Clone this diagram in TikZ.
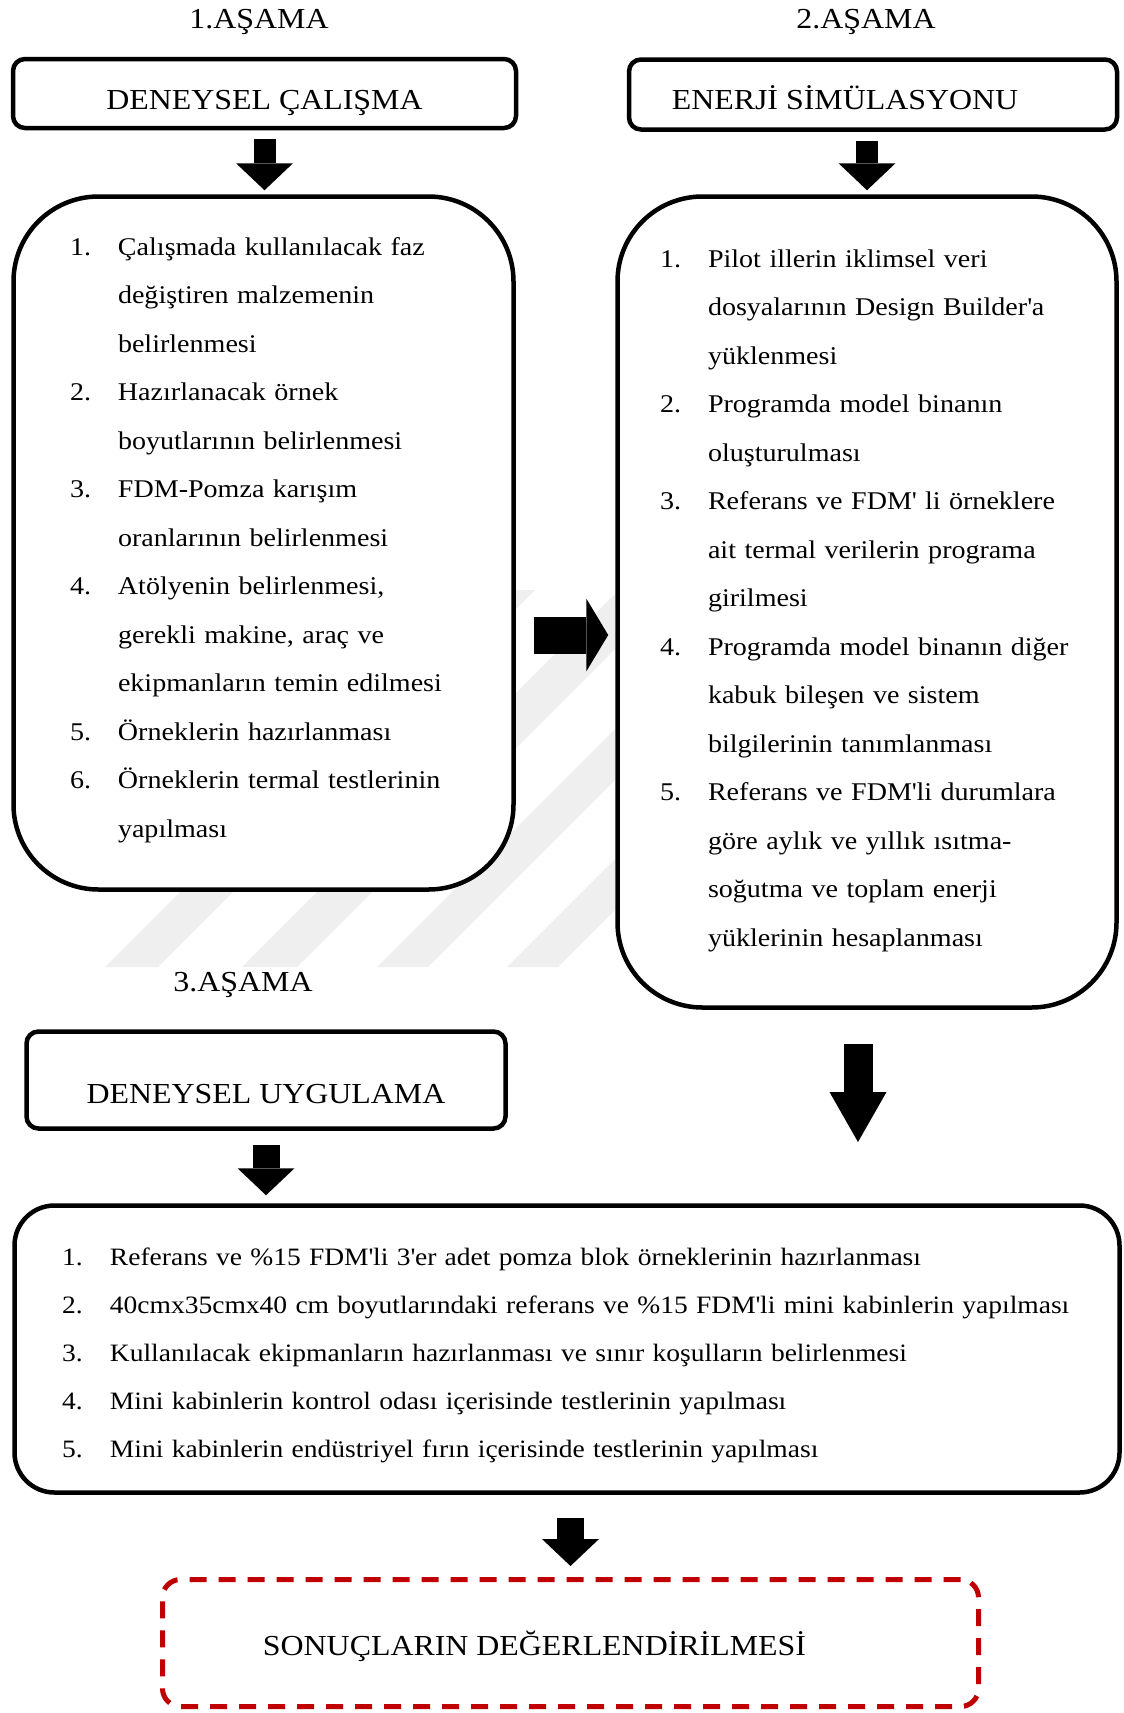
\documentclass[tikz,border=0pt]{standalone}
\usepackage{fontspec}
\setmainfont{Liberation Serif}[FakeStretch=1.1]
\usepackage{tikz}
\usetikzlibrary{arrows.meta}
\definecolor{sonuckirmizi}{RGB}{192,0,0}
\definecolor{filigran}{RGB}{239,239,239}
\newcommand{\madde}[1]{\makebox[48pt][l]{#1}}
\newcommand{\devam}{\hspace*{48pt}}
\newcommand{\kesme}{\textquotesingle}
\tikzstyle{baslik} = [font=\fontsize{29}{34}\selectfont, inner sep=0pt, anchor=base]
\tikzstyle{asama} = [rectangle, rounded corners=12pt, line width=4.5pt, draw=black, fill=white, inner sep=0pt, text depth=0pt, font=\fontsize{29}{34}\selectfont]
\tikzstyle{liste} = [rectangle, rounded corners=85pt, line width=4.5pt, draw=black, fill=white, inner sep=0pt, align=left, text height=0pt, font=\fontsize{25.5}{48.5}\selectfont]
\tikzstyle{sonuc} = [rectangle, rounded corners=18pt, line width=5pt, draw=sonuckirmizi, dash pattern=on 17pt off 12pt, fill=white, inner sep=0pt, text depth=0pt, text height=24pt, font=\fontsize{29}{34}\selectfont]
\tikzstyle{blokok} = [draw=black, -{Triangle[width=57pt, length=27pt, line width=0pt]}]

\begin{document}
\begin{tikzpicture}[x=1pt, y=-1pt]
\useasboundingbox (0,0) rectangle (1124,1713);

\begin{scope}
\clip (100,590) rectangle (615,967);
\fill [filigran] (105,967) -- ++(53,0) -- ++(420,-420) -- ++(-53,0) -- cycle;
\fill [filigran] (242,967) -- ++(55,0) -- ++(420,-420) -- ++(-55,0) -- cycle;
\fill [filigran] (377,967) -- ++(51,0) -- ++(420,-420) -- ++(-51,0) -- cycle;
\fill [filigran] (507,967) -- ++(51,0) -- ++(420,-420) -- ++(-51,0) -- cycle;
\end{scope}

\node (baslik1) [baslik] at (259,28) {1.AŞAMA};
\node (baslik2) [baslik] at (866,28) {2.AŞAMA};
\node (baslik3) [baslik] at (243,991) {3.AŞAMA};

\node (deney) [asama, minimum width=503pt, minimum height=69pt, text height=31pt] at (264.5,93.5) {DENEYSEL ÇALIŞMA};
\node (enerji) [asama, minimum width=488pt, minimum height=70pt, text height=29pt] at (873,94.5) {ENERJİ SİMÜLASYONU\kern56pt};
\node (uygulama) [asama, minimum width=479pt, minimum height=97pt, text height=46pt] at (266,1080) {DENEYSEL UYGULAMA};

\node (liste1) [liste, minimum width=500pt, minimum height=693pt, text width=387pt, text depth=576pt] at (263.5,543)
        {\madde{1.}Çalışmada kullanılacak faz\\
         \devam değiştiren malzemenin\\
         \devam belirlenmesi\\
         \madde{2.}Hazırlanacak örnek\\
         \devam boyutlarının belirlenmesi\\
         \madde{3.}FDM-Pomza karışım\\
         \devam oranlarının belirlenmesi\\
         \madde{4.}Atölyenin belirlenmesi,\\
         \devam gerekli makine, araç ve\\
         \devam ekipmanların temin edilmesi\\
         \madde{5.}Örneklerin hazırlanması\\
         \madde{6.}Örneklerin termal testlerinin\\
         \devam yapılması};
\node (liste2) [liste, minimum width=499pt, minimum height=811pt, text width=414pt, text depth=670pt] at (867,602)
        {\madde{1.}Pilot illerin iklimsel veri\\
         \devam dosyalarının Design Builder\kesme a\\
         \devam yüklenmesi\\
         \madde{2.}Programda model binanın\\
         \devam oluşturulması\\
         \madde{3.}Referans ve FDM\kesme{} li örneklere\\
         \devam ait termal verilerin programa\\
         \devam girilmesi\\
         \madde{4.}Programda model binanın diğer\\
         \devam kabuk bileşen ve sistem\\
         \devam bilgilerinin tanımlanması\\
         \madde{5.}Referans ve FDM\kesme li durumlara\\
         \devam göre aylık ve yıllık ısıtma-\\
         \devam soğutma ve toplam enerji\\
         \devam yüklerinin hesaplanması};
\node (liste3) [liste, rounded corners=40pt, minimum width=1105pt, minimum height=287pt, text width=1010pt, text depth=168pt, font=\fontsize{25}{48}\selectfont] at (567,1349)
        {\madde{1.}Referans ve \%15 FDM\kesme li 3\kesme er adet pomza blok örneklerinin hazırlanması\\
         \madde{2.}40cmx35cmx40 cm boyutlarındaki referans ve \%15 FDM\kesme li mini kabinlerin yapılması\\
         \madde{3.}Kullanılacak ekipmanların hazırlanması ve sınır koşulların belirlenmesi\\
         \madde{4.}Mini kabinlerin kontrol odası içerisinde testlerinin yapılması\\
         \madde{5.}Mini kabinlerin endüstriyel fırın içerisinde testlerinin yapılması};
\node (sonuc) [sonuc, minimum width=816pt, minimum height=127pt] at (570.5,1643) {SONUÇLARIN DEĞERLENDİRİLMESİ\kern72pt};

\coordinate (sagok) at ([shift={(18,92)}]liste1.east);
\coordinate (bosluk) at (858,1142);

\draw [blokok, line width=22pt] ([yshift=-9pt]deney.south) -- ([yshift=4pt]deney.south |- liste1.north);
\draw [blokok, line width=22pt] ([yshift=-9pt]liste2.north |- enerji.south) -- ([yshift=4pt]liste2.north);
\draw [blokok, line width=37pt, -{Triangle[width=73pt, length=22pt, line width=0pt]}] (sagok) -- ([xshift=-7pt]liste2.west |- sagok);
\draw [blokok, line width=29pt, -{Triangle[width=57pt, length=50pt, line width=0pt]}] ([shift={(-9,34)}]liste2.south) -- (bosluk);
\draw [blokok, line width=27pt] ([yshift=-14pt]uygulama.south) -- ([yshift=8pt]uygulama.south |- liste3.north);
\draw [blokok, line width=27pt] ([yshift=-23pt]sonuc.north |- liste3.south) -- ([yshift=11pt]sonuc.north);
\end{tikzpicture}
\end{document}
